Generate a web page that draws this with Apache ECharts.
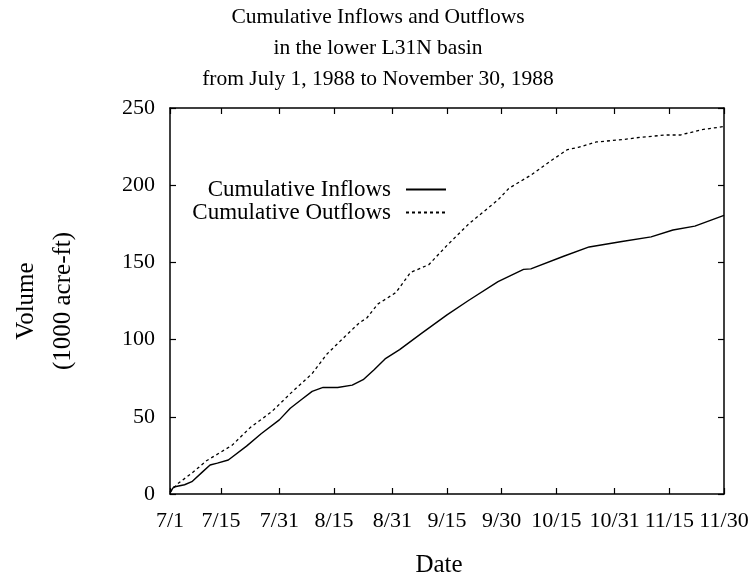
<!DOCTYPE html>
<html>
<head>
<meta charset="utf-8">
<title>Cumulative Inflows and Outflows</title>
<script src="https://cdn.jsdelivr.net/npm/echarts@6/dist/echarts.min.js"></script>
<style>
  html, body { margin: 0; padding: 0; background: #fff; }
  #chart { width: 754px; height: 574px; }
</style>
</head>
<body>
<div id="chart"></div>
<script>
// Days counted from July 1, 1988 (day 0) to November 30, 1988 (day 152)
const tickDays = [0, 14, 30, 45, 61, 76, 91, 106, 122, 137, 152];
const tickLabels = ['7/1', '7/15', '7/31', '8/15', '8/31', '9/15', '9/30', '10/15', '10/31', '11/15', '11/30'];

// Cumulative inflows, 1000 acre-ft
const inflowDays = [0, 1, 4, 6, 9, 11, 13, 16, 21, 25, 30, 33, 36, 39, 42, 46, 50, 53, 56, 59, 63, 69, 76, 82, 90, 97, 99, 108, 115, 124, 132, 138, 144, 152];
const inflowValues = [1, 4.5, 6, 8, 14.5, 18.8, 20, 22, 31, 39, 48, 55.5, 61, 66.5, 69, 69, 70.5, 74, 80.5, 87.5, 93.5, 104, 116, 125.5, 137.5, 145.5, 145.8, 154, 160, 163.5, 166.5, 171, 173.5, 180.5];

// Cumulative outflows, 1000 acre-ft
const outflowDays = [0, 2, 6, 10, 17, 22, 28, 33, 39, 43, 48, 52, 54, 57, 62, 66, 71, 76, 82, 90, 93, 99, 104, 109, 112, 117, 124, 129, 136, 140, 146, 152];
const outflowValues = [1, 6.5, 13.5, 21.5, 31.5, 43, 53.5, 65, 78, 90.5, 102, 111, 114, 123, 130.5, 143.5, 148.5, 161, 175, 190.5, 198, 206.5, 215, 223, 224.5, 228, 229.5, 231, 232.5, 232.5, 236, 238];

const FONT = 'Liberation Serif';
const pairs = (xs, ys) => xs.map((x, i) => [x, ys[i]]);
const labelFor = v => {
  const i = tickDays.indexOf(v);
  return i >= 0 ? tickLabels[i] : '';
};

const frameLine = { show: true, onZero: false, lineStyle: { color: '#000', width: 1.5 } };
const inTicks = { show: true, inside: true, length: 6, lineStyle: { color: '#000', width: 1.2 } };

const chart = echarts.init(document.getElementById('chart'), null, { renderer: 'canvas' });
chart.setOption({
  backgroundColor: '#fff',
  animation: false,
  title: {
    text: 'Cumulative Inflows and Outflows\nin the lower L31N basin\nfrom July 1, 1988 to November 30, 1988',
    left: 373,
    textAlign: 'center',
    top: -3,
    textStyle: { fontFamily: FONT, fontSize: 21.5, fontWeight: 'normal', color: '#000', lineHeight: 31 }
  },
  legend: {
    orient: 'vertical',
    align: 'right',
    right: 302,
    top: 173,
    itemWidth: 40,
    itemHeight: 14,
    itemGap: 0,
    itemStyle: { opacity: 0 },
    textStyle: { fontFamily: FONT, fontSize: 23, color: '#000', lineHeight: 23, padding: [0, 10, 0, 0] },
    data: ['Cumulative Inflows', 'Cumulative Outflows']
  },
  grid: { left: 170, right: 30, top: 108, bottom: 80, outerBoundsMode: 'none' },
  xAxis: [
    {
      type: 'value', min: 0, max: 152, position: 'bottom',
      name: 'Date', nameLocation: 'middle', nameGap: 59, nameMoveOverlap: false,
      nameTextStyle: { fontFamily: FONT, fontSize: 25, color: '#000', padding: [0, 16, 0, 0] },
      axisLine: frameLine,
      axisTick: Object.assign({ customValues: tickDays }, inTicks),
      axisLabel: {
        customValues: tickDays, formatter: labelFor, margin: 16,
        fontFamily: FONT, fontSize: 22, color: '#000'
      },
      splitLine: { show: false }
    },
    {
      type: 'value', min: 0, max: 152, position: 'top',
      axisLine: frameLine,
      axisTick: Object.assign({ customValues: tickDays }, inTicks),
      axisLabel: { show: false },
      splitLine: { show: false }
    }
  ],
  yAxis: [
    {
      type: 'value', min: 0, max: 250, interval: 50, position: 'left',
      name: 'Volume\n(1000 acre-ft)', nameLocation: 'middle', nameRotate: 90, nameGap: 88, nameMoveOverlap: false,
      nameTextStyle: { fontFamily: FONT, fontSize: 25, color: '#000', lineHeight: 37 },
      axisLine: frameLine,
      axisTick: inTicks,
      axisLabel: { margin: 15, fontFamily: FONT, fontSize: 22, color: '#000' },
      splitLine: { show: false }
    },
    {
      type: 'value', min: 0, max: 250, interval: 50, position: 'right',
      axisLine: frameLine,
      axisTick: inTicks,
      axisLabel: { show: false },
      splitLine: { show: false }
    }
  ],
  series: [
    {
      name: 'Cumulative Inflows', type: 'line', xAxisIndex: 0, yAxisIndex: 0,
      data: pairs(inflowDays, inflowValues),
      symbol: 'none', smooth: false,
      lineStyle: { color: '#000', width: 1.4, type: 'solid' },
      itemStyle: { color: '#000' }
    },
    {
      name: 'Cumulative Outflows', type: 'line', xAxisIndex: 0, yAxisIndex: 0,
      data: pairs(outflowDays, outflowValues),
      symbol: 'none', smooth: false,
      lineStyle: { color: '#000', width: 1.3, type: [3, 3] },
      itemStyle: { color: '#000' }
    }
  ]
});
</script>
</body>
</html>
